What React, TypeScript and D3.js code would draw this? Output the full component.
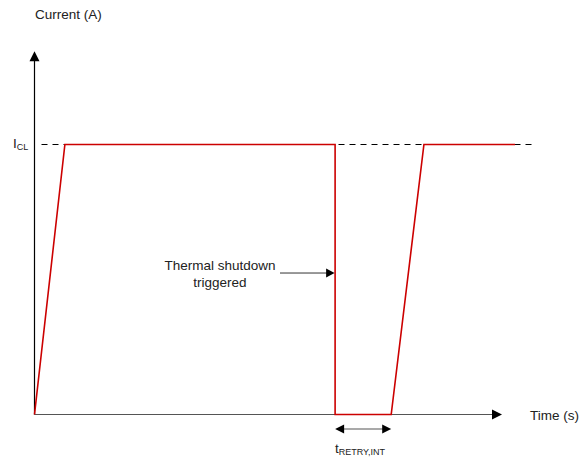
import React from "react";
import * as d3 from "d3";

// Data: time (arbitrary units) vs current (fraction of I_CL)
const timePoints = [0, 6.5, 64.3, 64.3, 76.3, 83.3, 102.8];
const currentValues = [0, 1, 1, 0, 0, 1, 1];
const levelLabel = "I";
const levelSub = "CL";
const yAxisTitle = "Current (A)";
const xAxisTitle = "Time (s)";
const annotationLines = ["Thermal shutdown", "triggered"];
const retryLabel = "t";
const retrySub = "RETRY,INT";

const W = 582;
const H = 461;

export default function App() {
  const x = d3.scaleLinear().domain([0, 100]).range([34.5, 502]);
  const y = d3.scaleLinear().domain([0, 1]).range([414.5, 144.5]);
  const yTop = 1.345;
  const xEnd = x(100);
  const line = d3
    .line<number>()
    .x((_, i) => x(timePoints[i]))
    .y((d) => y(d));
  const path = line(currentValues) || "";
  const font = "'Liberation Sans', Arial, sans-serif";
  const tShut = x(timePoints[2]);
  const tRetryEnd = x(timePoints[4]);
  const arrowY = y(0.524);
  const dblY = 429;

  return (
    <svg
      width={W}
      height={H}
      style={{ position: "absolute", left: 0, top: 0, background: "#fff" }}
      fontFamily={font}
    >
      {/* dashed I_CL level */}
      <line
        x1={x(1.5)}
        x2={x(106.5)}
        y1={y(1)}
        y2={y(1)}
        stroke="#000"
        strokeWidth={1}
        strokeDasharray="6,5"
      />
      {/* y axis */}
      <line x1={x(0)} x2={x(0)} y1={y(0)} y2={y(yTop) + 8} stroke="#000" strokeWidth={1.2} />
      <path
        d={`M${x(0)},${y(yTop)} L${x(0) - 5},${y(yTop) + 10} L${x(0) + 5},${y(yTop) + 10} Z`}
        fill="#000"
      />
      {/* x axis */}
      <line x1={x(0)} x2={xEnd - 8} y1={y(0)} y2={y(0)} stroke="#555" strokeWidth={1.2} />
      <path
        d={`M${xEnd},${y(0)} L${xEnd - 10},${y(0) - 5} L${xEnd - 10},${y(0) + 5} Z`}
        fill="#000"
      />
      {/* current trace */}
      <path d={path} fill="none" stroke="#cc0000" strokeWidth={1.6} />

      {/* annotation arrow */}
      <line x1={280} x2={tShut - 8} y1={arrowY} y2={arrowY} stroke="#333" strokeWidth={1} />
      <path
        d={`M${tShut - 0.5},${arrowY} L${tShut - 9},${arrowY - 4.5} L${tShut - 9},${arrowY + 4.5} Z`}
        fill="#000"
      />
      <text x={220} y={270} fontSize={13.5} textAnchor="middle" fill="#222">
        {annotationLines[0]}
      </text>
      <text x={220} y={287} fontSize={13.5} textAnchor="middle" fill="#222">
        {annotationLines[1]}
      </text>

      {/* retry double arrow */}
      <line x1={tShut + 8} x2={tRetryEnd - 8} y1={dblY} y2={dblY} stroke="#555" strokeWidth={1.2} />
      <path
        d={`M${tShut},${dblY} L${tShut + 9},${dblY - 4.5} L${tShut + 9},${dblY + 4.5} Z`}
        fill="#000"
      />
      <path
        d={`M${tRetryEnd},${dblY} L${tRetryEnd - 9},${dblY - 4.5} L${tRetryEnd - 9},${dblY + 4.5} Z`}
        fill="#000"
      />
      <text x={335} y={453} fontSize={13.5} fill="#222">
        {retryLabel}
        <tspan fontSize={9} dy={2}>
          {retrySub}
        </tspan>
      </text>

      {/* axis titles */}
      <text x={35} y={19} fontSize={13.5} fill="#222">
        {yAxisTitle}
      </text>
      <text x={530} y={420} fontSize={13.5} fill="#222">
        {xAxisTitle}
      </text>
      <text x={13} y={148} fontSize={13.5} fill="#222">
        {levelLabel}
        <tspan fontSize={9} dy={2}>
          {levelSub}
        </tspan>
      </text>
    </svg>
  );
}
